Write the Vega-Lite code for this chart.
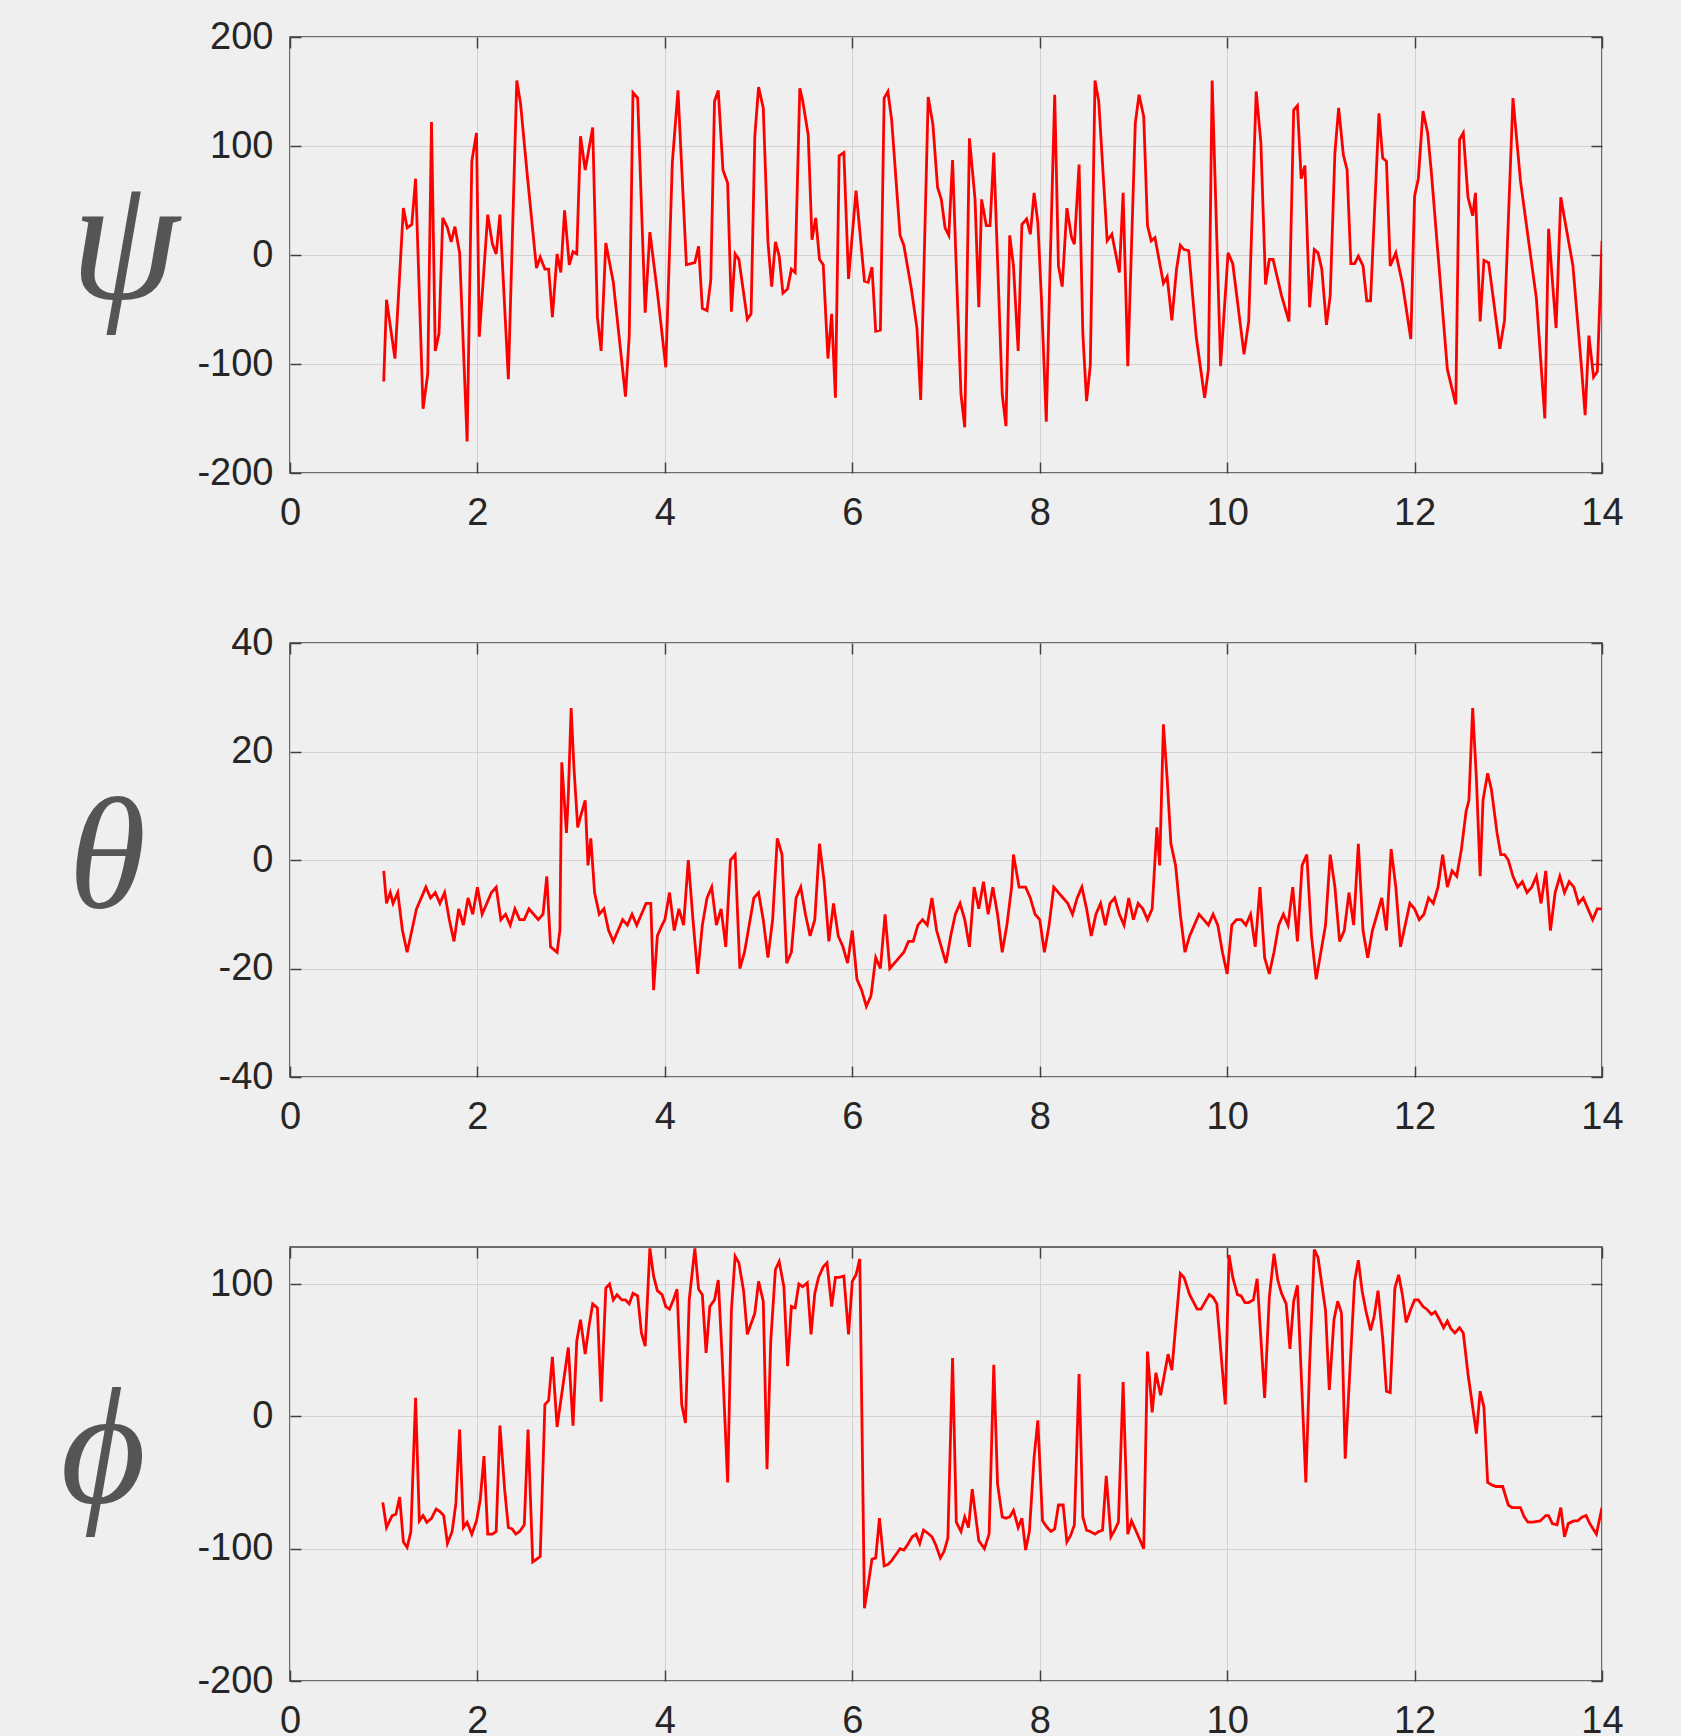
{
  "$schema": "https://vega.github.io/schema/vega-lite/v6.json",
  "autosize": {"type": "pad"},
  "padding": {"left": 59, "top": 17, "right": 59, "bottom": 0},
  "background": "#efefef",
  "bounds": "flush",
  "spacing": 170,
  "config": {
    "view": {"stroke": "#404040", "strokeWidth": 1.5},
    "axis": {
      "domain": false,
      "labelFont": "Liberation Sans",
      "labelFontSize": 38,
      "labelColor": "#262626",
      "labelFlush": false,
      "labelOverlap": false,
      "labelExpr": "datum.value + ''",
      "gridColor": "#d2d2d2",
      "gridWidth": 1,
      "tickColor": "#404040",
      "tickWidth": 1.5,
      "tickSize": -11,
      "titleAngle": 0,
      "titleFont": "Liberation Serif",
      "titleFontStyle": "italic",
      "titleFontWeight": "normal",
      "titleColor": "#555555",
      "titleAlign": "left",
      "titleBaseline": "alphabetic"
    },
    "axisX": {"labelPadding": 32},
    "axisY": {"labelPadding": 28}
  },
  "datasets": {
    "psi": [
      {"t":1.0,"v":-116},{"t":1.03,"v":-41},{"t":1.12,"v":-95},{"t":1.21,"v":43},{"t":1.25,"v":25},{"t":1.3,"v":28},{"t":1.34,"v":70},{"t":1.42,"v":-141},{"t":1.47,"v":-109},{"t":1.51,"v":122},{"t":1.55,"v":-88},{"t":1.59,"v":-72},{"t":1.63,"v":34},{"t":1.68,"v":25},{"t":1.72,"v":12},{"t":1.76,"v":26},{"t":1.81,"v":2},{"t":1.89,"v":-171},{"t":1.94,"v":86},{"t":1.99,"v":112},{"t":2.02,"v":-75},{"t":2.11,"v":37},{"t":2.16,"v":10},{"t":2.2,"v":1},{"t":2.24,"v":37},{"t":2.33,"v":-114},{"t":2.42,"v":160},{"t":2.46,"v":139},{"t":2.53,"v":75},{"t":2.63,"v":-12},{"t":2.67,"v":-2},{"t":2.72,"v":-13},{"t":2.76,"v":-13},{"t":2.8,"v":-57},{"t":2.85,"v":1},{"t":2.89,"v":-16},{"t":2.93,"v":41},{"t":2.98,"v":-9},{"t":3.02,"v":3},{"t":3.06,"v":1},{"t":3.1,"v":109},{"t":3.15,"v":78},{"t":3.23,"v":117},{"t":3.28,"v":-57},{"t":3.32,"v":-88},{"t":3.37,"v":11},{"t":3.45,"v":-25},{"t":3.58,"v":-130},{"t":3.62,"v":-74},{"t":3.66,"v":149},{"t":3.71,"v":144},{"t":3.79,"v":-53},{"t":3.84,"v":21},{"t":3.92,"v":-34},{"t":4.01,"v":-103},{"t":4.08,"v":85},{"t":4.14,"v":151},{"t":4.23,"v":-9},{"t":4.32,"v":-7},{"t":4.36,"v":8},{"t":4.4,"v":-49},{"t":4.45,"v":-51},{"t":4.49,"v":-23},{"t":4.53,"v":141},{"t":4.57,"v":151},{"t":4.62,"v":78},{"t":4.67,"v":66},{"t":4.71,"v":-52},{"t":4.75,"v":1},{"t":4.79,"v":-4},{"t":4.88,"v":-59},{"t":4.92,"v":-54},{"t":4.96,"v":109},{"t":5.0,"v":154},{"t":5.05,"v":135},{"t":5.1,"v":12},{"t":5.14,"v":-29},{"t":5.18,"v":12},{"t":5.22,"v":-1},{"t":5.26,"v":-35},{"t":5.31,"v":-31},{"t":5.35,"v":-13},{"t":5.39,"v":-16},{"t":5.44,"v":153},{"t":5.47,"v":142},{"t":5.53,"v":110},{"t":5.57,"v":14},{"t":5.61,"v":34},{"t":5.65,"v":-4},{"t":5.69,"v":-9},{"t":5.74,"v":-95},{"t":5.78,"v":-54},{"t":5.82,"v":-131},{"t":5.86,"v":91},{"t":5.91,"v":94},{"t":5.96,"v":-22},{"t":6.04,"v":59},{"t":6.13,"v":-24},{"t":6.17,"v":-25},{"t":6.21,"v":-11},{"t":6.25,"v":-70},{"t":6.3,"v":-69},{"t":6.34,"v":144},{"t":6.38,"v":150},{"t":6.42,"v":124},{"t":6.51,"v":18},{"t":6.55,"v":9},{"t":6.63,"v":-31},{"t":6.69,"v":-67},{"t":6.73,"v":-133},{"t":6.81,"v":145},{"t":6.86,"v":120},{"t":6.91,"v":62},{"t":6.95,"v":51},{"t":6.99,"v":25},{"t":7.03,"v":18},{"t":7.07,"v":87},{"t":7.12,"v":-37},{"t":7.16,"v":-128},{"t":7.2,"v":-158},{"t":7.25,"v":107},{"t":7.31,"v":51},{"t":7.35,"v":-48},{"t":7.38,"v":51},{"t":7.43,"v":27},{"t":7.47,"v":27},{"t":7.51,"v":94},{"t":7.6,"v":-128},{"t":7.64,"v":-157},{"t":7.68,"v":18},{"t":7.72,"v":-10},{"t":7.77,"v":-88},{"t":7.81,"v":28},{"t":7.86,"v":33},{"t":7.9,"v":19},{"t":7.94,"v":57},{"t":7.98,"v":30},{"t":8.02,"v":-43},{"t":8.07,"v":-153},{"t":8.11,"v":-13},{"t":8.16,"v":147},{"t":8.2,"v":-10},{"t":8.24,"v":-29},{"t":8.29,"v":43},{"t":8.34,"v":16},{"t":8.37,"v":10},{"t":8.42,"v":83},{"t":8.46,"v":-72},{"t":8.5,"v":-134},{"t":8.54,"v":-101},{"t":8.59,"v":160},{"t":8.63,"v":141},{"t":8.72,"v":13},{"t":8.77,"v":19},{"t":8.85,"v":-16},{"t":8.89,"v":57},{"t":8.94,"v":-102},{"t":9.02,"v":121},{"t":9.06,"v":147},{"t":9.11,"v":127},{"t":9.15,"v":27},{"t":9.19,"v":13},{"t":9.23,"v":16},{"t":9.32,"v":-26},{"t":9.36,"v":-20},{"t":9.41,"v":-60},{"t":9.46,"v":-13},{"t":9.5,"v":9},{"t":9.54,"v":5},{"t":9.59,"v":4},{"t":9.67,"v":-75},{"t":9.76,"v":-131},{"t":9.8,"v":-105},{"t":9.84,"v":160},{"t":9.93,"v":-102},{"t":10.01,"v":2},{"t":10.06,"v":-8},{"t":10.18,"v":-91},{"t":10.23,"v":-61},{"t":10.31,"v":150},{"t":10.36,"v":103},{"t":10.41,"v":-27},{"t":10.45,"v":-4},{"t":10.49,"v":-4},{"t":10.58,"v":-37},{"t":10.66,"v":-61},{"t":10.71,"v":133},{"t":10.75,"v":137},{"t":10.79,"v":70},{"t":10.83,"v":82},{"t":10.88,"v":-48},{"t":10.93,"v":5},{"t":10.97,"v":2},{"t":11.01,"v":-13},{"t":11.06,"v":-64},{"t":11.1,"v":-37},{"t":11.15,"v":94},{"t":11.19,"v":135},{"t":11.24,"v":92},{"t":11.28,"v":78},{"t":11.32,"v":-8},{"t":11.36,"v":-8},{"t":11.4,"v":-1},{"t":11.45,"v":-10},{"t":11.49,"v":-42},{"t":11.53,"v":-42},{"t":11.62,"v":130},{"t":11.66,"v":89},{"t":11.7,"v":86},{"t":11.74,"v":-10},{"t":11.8,"v":2},{"t":11.87,"v":-26},{"t":11.96,"v":-77},{"t":12.0,"v":54},{"t":12.04,"v":70},{"t":12.09,"v":132},{"t":12.14,"v":112},{"t":12.18,"v":75},{"t":12.35,"v":-105},{"t":12.44,"v":-137},{"t":12.48,"v":106},{"t":12.52,"v":112},{"t":12.57,"v":53},{"t":12.62,"v":36},{"t":12.65,"v":57},{"t":12.7,"v":-61},{"t":12.74,"v":-5},{"t":12.79,"v":-7},{"t":12.91,"v":-86},{"t":12.96,"v":-60},{"t":13.05,"v":144},{"t":13.13,"v":68},{"t":13.3,"v":-40},{"t":13.39,"v":-150},{"t":13.43,"v":24},{"t":13.47,"v":-23},{"t":13.51,"v":-67},{"t":13.56,"v":53},{"t":13.69,"v":-10},{"t":13.78,"v":-102},{"t":13.82,"v":-147},{"t":13.86,"v":-74},{"t":13.91,"v":-112},{"t":13.95,"v":-107},{"t":14.0,"v":13}
    ],
    "theta": [
      {"t":1.0,"v":-2},{"t":1.03,"v":-8},{"t":1.07,"v":-6},{"t":1.1,"v":-8},{"t":1.15,"v":-6},{"t":1.2,"v":-13},{"t":1.25,"v":-17},{"t":1.35,"v":-9},{"t":1.45,"v":-5},{"t":1.5,"v":-7},{"t":1.55,"v":-6},{"t":1.6,"v":-8},{"t":1.65,"v":-6},{"t":1.7,"v":-11},{"t":1.75,"v":-15},{"t":1.8,"v":-9},{"t":1.85,"v":-12},{"t":1.9,"v":-7},{"t":1.95,"v":-10},{"t":2.0,"v":-5},{"t":2.05,"v":-10},{"t":2.1,"v":-8},{"t":2.15,"v":-6},{"t":2.2,"v":-5},{"t":2.25,"v":-11},{"t":2.3,"v":-10},{"t":2.35,"v":-12},{"t":2.4,"v":-9},{"t":2.45,"v":-11},{"t":2.5,"v":-11},{"t":2.55,"v":-9},{"t":2.6,"v":-10},{"t":2.65,"v":-11},{"t":2.7,"v":-10},{"t":2.74,"v":-3},{"t":2.78,"v":-16},{"t":2.85,"v":-17},{"t":2.88,"v":-13},{"t":2.9,"v":18},{"t":2.95,"v":5},{"t":2.97,"v":12},{"t":3.0,"v":28},{"t":3.03,"v":17},{"t":3.07,"v":6},{"t":3.1,"v":8},{"t":3.15,"v":11},{"t":3.18,"v":-1},{"t":3.21,"v":4},{"t":3.25,"v":-6},{"t":3.3,"v":-10},{"t":3.35,"v":-9},{"t":3.4,"v":-13},{"t":3.45,"v":-15},{"t":3.5,"v":-13},{"t":3.55,"v":-11},{"t":3.6,"v":-12},{"t":3.65,"v":-10},{"t":3.7,"v":-12},{"t":3.75,"v":-10},{"t":3.8,"v":-8},{"t":3.85,"v":-8},{"t":3.88,"v":-24},{"t":3.92,"v":-14},{"t":3.97,"v":-12},{"t":4.0,"v":-11},{"t":4.05,"v":-6},{"t":4.1,"v":-13},{"t":4.15,"v":-9},{"t":4.2,"v":-12},{"t":4.25,"v":0},{"t":4.3,"v":-11},{"t":4.35,"v":-21},{"t":4.4,"v":-12},{"t":4.45,"v":-7},{"t":4.5,"v":-5},{"t":4.55,"v":-12},{"t":4.6,"v":-9},{"t":4.65,"v":-16},{"t":4.7,"v":0},{"t":4.75,"v":1},{"t":4.8,"v":-20},{"t":4.85,"v":-17},{"t":4.9,"v":-12},{"t":4.95,"v":-7},{"t":5.0,"v":-6},{"t":5.05,"v":-11},{"t":5.1,"v":-18},{"t":5.15,"v":-11},{"t":5.2,"v":4},{"t":5.25,"v":1},{"t":5.3,"v":-19},{"t":5.35,"v":-17},{"t":5.4,"v":-7},{"t":5.45,"v":-5},{"t":5.5,"v":-10},{"t":5.55,"v":-14},{"t":5.6,"v":-11},{"t":5.65,"v":3},{"t":5.7,"v":-4},{"t":5.75,"v":-15},{"t":5.8,"v":-8},{"t":5.85,"v":-14},{"t":5.9,"v":-16},{"t":5.95,"v":-19},{"t":6.0,"v":-13},{"t":6.05,"v":-22},{"t":6.1,"v":-24},{"t":6.15,"v":-27},{"t":6.2,"v":-25},{"t":6.25,"v":-18},{"t":6.3,"v":-20},{"t":6.35,"v":-10},{"t":6.4,"v":-20},{"t":6.45,"v":-19},{"t":6.5,"v":-18},{"t":6.55,"v":-17},{"t":6.6,"v":-15},{"t":6.65,"v":-15},{"t":6.7,"v":-12},{"t":6.75,"v":-11},{"t":6.8,"v":-12},{"t":6.85,"v":-7},{"t":6.9,"v":-13},{"t":6.95,"v":-16},{"t":7.0,"v":-19},{"t":7.05,"v":-14},{"t":7.1,"v":-10},{"t":7.15,"v":-8},{"t":7.2,"v":-11},{"t":7.25,"v":-16},{"t":7.3,"v":-5},{"t":7.35,"v":-9},{"t":7.4,"v":-4},{"t":7.45,"v":-10},{"t":7.5,"v":-5},{"t":7.55,"v":-10},{"t":7.6,"v":-17},{"t":7.65,"v":-12},{"t":7.7,"v":-5},{"t":7.72,"v":1},{"t":7.78,"v":-5},{"t":7.85,"v":-5},{"t":7.9,"v":-7},{"t":7.95,"v":-10},{"t":8.0,"v":-11},{"t":8.05,"v":-17},{"t":8.1,"v":-12},{"t":8.15,"v":-5},{"t":8.2,"v":-6},{"t":8.25,"v":-7},{"t":8.3,"v":-8},{"t":8.35,"v":-10},{"t":8.4,"v":-7},{"t":8.45,"v":-5},{"t":8.5,"v":-9},{"t":8.55,"v":-14},{"t":8.6,"v":-10},{"t":8.65,"v":-8},{"t":8.7,"v":-12},{"t":8.75,"v":-8},{"t":8.8,"v":-7},{"t":8.85,"v":-10},{"t":8.9,"v":-12},{"t":8.95,"v":-7},{"t":9.0,"v":-11},{"t":9.05,"v":-8},{"t":9.1,"v":-9},{"t":9.15,"v":-11},{"t":9.2,"v":-9},{"t":9.25,"v":6},{"t":9.28,"v":-1},{"t":9.32,"v":25},{"t":9.36,"v":15},{"t":9.4,"v":3},{"t":9.45,"v":-1},{"t":9.5,"v":-10},{"t":9.55,"v":-17},{"t":9.6,"v":-14},{"t":9.65,"v":-12},{"t":9.7,"v":-10},{"t":9.75,"v":-11},{"t":9.8,"v":-12},{"t":9.85,"v":-10},{"t":9.9,"v":-12},{"t":9.95,"v":-17},{"t":10.0,"v":-21},{"t":10.05,"v":-12},{"t":10.1,"v":-11},{"t":10.15,"v":-11},{"t":10.2,"v":-12},{"t":10.25,"v":-10},{"t":10.3,"v":-16},{"t":10.35,"v":-5},{"t":10.4,"v":-18},{"t":10.45,"v":-21},{"t":10.5,"v":-17},{"t":10.55,"v":-12},{"t":10.6,"v":-10},{"t":10.65,"v":-12},{"t":10.7,"v":-5},{"t":10.75,"v":-15},{"t":10.8,"v":-1},{"t":10.85,"v":1},{"t":10.9,"v":-14},{"t":10.95,"v":-22},{"t":11.0,"v":-17},{"t":11.05,"v":-12},{"t":11.1,"v":1},{"t":11.15,"v":-5},{"t":11.2,"v":-15},{"t":11.25,"v":-13},{"t":11.3,"v":-6},{"t":11.35,"v":-12},{"t":11.4,"v":3},{"t":11.45,"v":-13},{"t":11.5,"v":-18},{"t":11.55,"v":-13},{"t":11.6,"v":-10},{"t":11.65,"v":-7},{"t":11.7,"v":-13},{"t":11.75,"v":2},{"t":11.8,"v":-5},{"t":11.85,"v":-16},{"t":11.9,"v":-12},{"t":11.95,"v":-8},{"t":12.0,"v":-9},{"t":12.05,"v":-11},{"t":12.1,"v":-10},{"t":12.15,"v":-7},{"t":12.2,"v":-8},{"t":12.25,"v":-5},{"t":12.3,"v":1},{"t":12.35,"v":-5},{"t":12.4,"v":-2},{"t":12.45,"v":-3},{"t":12.5,"v":2},{"t":12.55,"v":9},{"t":12.58,"v":11},{"t":12.62,"v":28},{"t":12.66,"v":15},{"t":12.7,"v":-3},{"t":12.73,"v":11},{"t":12.78,"v":16},{"t":12.82,"v":13},{"t":12.88,"v":5},{"t":12.92,"v":1},{"t":12.96,"v":1},{"t":13.0,"v":0},{"t":13.05,"v":-3},{"t":13.1,"v":-5},{"t":13.15,"v":-4},{"t":13.2,"v":-6},{"t":13.25,"v":-5},{"t":13.3,"v":-3},{"t":13.35,"v":-8},{"t":13.4,"v":-2},{"t":13.45,"v":-13},{"t":13.5,"v":-6},{"t":13.55,"v":-3},{"t":13.6,"v":-6},{"t":13.65,"v":-4},{"t":13.7,"v":-5},{"t":13.75,"v":-8},{"t":13.8,"v":-7},{"t":13.85,"v":-9},{"t":13.9,"v":-11},{"t":13.95,"v":-9},{"t":14.0,"v":-9}
    ],
    "phi": [
      {"t":0.99,"v":-65},{"t":1.03,"v":-84},{"t":1.09,"v":-75},{"t":1.13,"v":-74},{"t":1.17,"v":-61},{"t":1.21,"v":-95},{"t":1.25,"v":-99},{"t":1.29,"v":-87},{"t":1.34,"v":14},{"t":1.38,"v":-79},{"t":1.42,"v":-75},{"t":1.46,"v":-80},{"t":1.51,"v":-77},{"t":1.56,"v":-70},{"t":1.6,"v":-72},{"t":1.64,"v":-75},{"t":1.68,"v":-96},{"t":1.73,"v":-87},{"t":1.77,"v":-66},{"t":1.81,"v":-10},{"t":1.85,"v":-84},{"t":1.89,"v":-80},{"t":1.94,"v":-89},{"t":1.99,"v":-79},{"t":2.03,"v":-63},{"t":2.07,"v":-30},{"t":2.11,"v":-89},{"t":2.16,"v":-89},{"t":2.2,"v":-87},{"t":2.24,"v":-7},{"t":2.29,"v":-55},{"t":2.33,"v":-84},{"t":2.37,"v":-85},{"t":2.41,"v":-89},{"t":2.45,"v":-87},{"t":2.5,"v":-82},{"t":2.54,"v":-10},{"t":2.59,"v":-110},{"t":2.63,"v":-108},{"t":2.67,"v":-106},{"t":2.72,"v":9},{"t":2.76,"v":12},{"t":2.8,"v":45},{"t":2.85,"v":-8},{"t":2.89,"v":12},{"t":2.97,"v":52},{"t":3.02,"v":-7},{"t":3.06,"v":57},{"t":3.1,"v":73},{"t":3.15,"v":47},{"t":3.19,"v":68},{"t":3.23,"v":85},{"t":3.28,"v":82},{"t":3.32,"v":11},{"t":3.37,"v":97},{"t":3.41,"v":100},{"t":3.45,"v":88},{"t":3.49,"v":92},{"t":3.54,"v":88},{"t":3.58,"v":88},{"t":3.62,"v":85},{"t":3.66,"v":93},{"t":3.71,"v":91},{"t":3.75,"v":63},{"t":3.79,"v":53},{"t":3.84,"v":127},{"t":3.88,"v":106},{"t":3.92,"v":95},{"t":3.97,"v":92},{"t":4.01,"v":83},{"t":4.05,"v":81},{"t":4.09,"v":88},{"t":4.13,"v":96},{"t":4.18,"v":9},{"t":4.22,"v":-5},{"t":4.26,"v":88},{"t":4.32,"v":127},{"t":4.36,"v":96},{"t":4.4,"v":92},{"t":4.44,"v":48},{"t":4.48,"v":83},{"t":4.53,"v":88},{"t":4.57,"v":103},{"t":4.61,"v":47},{"t":4.67,"v":-50},{"t":4.71,"v":80},{"t":4.75,"v":121},{"t":4.79,"v":116},{"t":4.84,"v":95},{"t":4.88,"v":62},{"t":4.92,"v":70},{"t":4.96,"v":78},{"t":5.0,"v":102},{"t":5.05,"v":87},{"t":5.09,"v":-40},{"t":5.13,"v":57},{"t":5.18,"v":111},{"t":5.22,"v":117},{"t":5.27,"v":98},{"t":5.31,"v":38},{"t":5.35,"v":83},{"t":5.39,"v":82},{"t":5.43,"v":100},{"t":5.47,"v":98},{"t":5.52,"v":101},{"t":5.56,"v":62},{"t":5.6,"v":93},{"t":5.64,"v":105},{"t":5.69,"v":113},{"t":5.73,"v":116},{"t":5.78,"v":83},{"t":5.82,"v":105},{"t":5.86,"v":105},{"t":5.91,"v":106},{"t":5.96,"v":62},{"t":6.0,"v":102},{"t":6.04,"v":107},{"t":6.08,"v":119},{"t":6.13,"v":-145},{"t":6.17,"v":-127},{"t":6.21,"v":-108},{"t":6.25,"v":-107},{"t":6.29,"v":-77},{"t":6.34,"v":-113},{"t":6.38,"v":-112},{"t":6.42,"v":-109},{"t":6.47,"v":-104},{"t":6.51,"v":-100},{"t":6.55,"v":-101},{"t":6.59,"v":-97},{"t":6.64,"v":-91},{"t":6.68,"v":-89},{"t":6.72,"v":-96},{"t":6.76,"v":-86},{"t":6.8,"v":-88},{"t":6.85,"v":-91},{"t":6.89,"v":-97},{"t":6.94,"v":-107},{"t":6.98,"v":-102},{"t":7.02,"v":-92},{"t":7.07,"v":44},{"t":7.11,"v":-80},{"t":7.16,"v":-87},{"t":7.2,"v":-76},{"t":7.24,"v":-84},{"t":7.28,"v":-55},{"t":7.35,"v":-94},{"t":7.41,"v":-100},{"t":7.46,"v":-89},{"t":7.51,"v":39},{"t":7.55,"v":-51},{"t":7.6,"v":-76},{"t":7.64,"v":-77},{"t":7.68,"v":-76},{"t":7.72,"v":-71},{"t":7.77,"v":-84},{"t":7.81,"v":-77},{"t":7.85,"v":-101},{"t":7.89,"v":-87},{"t":7.94,"v":-31},{"t":7.98,"v":-3},{"t":8.03,"v":-79},{"t":8.08,"v":-84},{"t":8.12,"v":-87},{"t":8.16,"v":-85},{"t":8.2,"v":-67},{"t":8.25,"v":-67},{"t":8.29,"v":-95},{"t":8.33,"v":-90},{"t":8.37,"v":-82},{"t":8.42,"v":32},{"t":8.46,"v":-76},{"t":8.5,"v":-86},{"t":8.54,"v":-87},{"t":8.59,"v":-89},{"t":8.63,"v":-87},{"t":8.67,"v":-86},{"t":8.71,"v":-45},{"t":8.76,"v":-91},{"t":8.8,"v":-86},{"t":8.84,"v":-80},{"t":8.89,"v":26},{"t":8.94,"v":-89},{"t":8.98,"v":-79},{"t":9.03,"v":-87},{"t":9.11,"v":-100},{"t":9.15,"v":49},{"t":9.2,"v":3},{"t":9.24,"v":33},{"t":9.29,"v":16},{"t":9.37,"v":47},{"t":9.41,"v":35},{"t":9.5,"v":108},{"t":9.54,"v":105},{"t":9.6,"v":92},{"t":9.68,"v":81},{"t":9.72,"v":81},{"t":9.81,"v":92},{"t":9.85,"v":90},{"t":9.89,"v":85},{"t":9.98,"v":9},{"t":10.02,"v":122},{"t":10.06,"v":105},{"t":10.11,"v":92},{"t":10.15,"v":91},{"t":10.19,"v":86},{"t":10.23,"v":86},{"t":10.28,"v":88},{"t":10.32,"v":104},{"t":10.4,"v":14},{"t":10.45,"v":90},{"t":10.5,"v":123},{"t":10.54,"v":103},{"t":10.58,"v":93},{"t":10.63,"v":85},{"t":10.67,"v":51},{"t":10.71,"v":87},{"t":10.75,"v":99},{"t":10.84,"v":-50},{"t":10.88,"v":39},{"t":10.93,"v":126},{"t":10.97,"v":120},{"t":11.01,"v":100},{"t":11.05,"v":80},{"t":11.09,"v":20},{"t":11.14,"v":73},{"t":11.18,"v":87},{"t":11.22,"v":78},{"t":11.26,"v":-32},{"t":11.36,"v":102},{"t":11.4,"v":118},{"t":11.44,"v":95},{"t":11.48,"v":80},{"t":11.53,"v":65},{"t":11.57,"v":76},{"t":11.61,"v":95},{"t":11.66,"v":59},{"t":11.7,"v":19},{"t":11.74,"v":18},{"t":11.79,"v":97},{"t":11.83,"v":107},{"t":11.87,"v":92},{"t":11.91,"v":71},{"t":11.96,"v":81},{"t":12.0,"v":88},{"t":12.04,"v":88},{"t":12.09,"v":83},{"t":12.13,"v":81},{"t":12.18,"v":77},{"t":12.22,"v":79},{"t":12.26,"v":74},{"t":12.31,"v":67},{"t":12.35,"v":72},{"t":12.39,"v":66},{"t":12.43,"v":63},{"t":12.48,"v":67},{"t":12.52,"v":63},{"t":12.57,"v":32},{"t":12.66,"v":-13},{"t":12.7,"v":19},{"t":12.74,"v":7},{"t":12.78,"v":-50},{"t":12.83,"v":-52},{"t":12.87,"v":-53},{"t":12.94,"v":-53},{"t":13.0,"v":-67},{"t":13.04,"v":-69},{"t":13.13,"v":-69},{"t":13.17,"v":-76},{"t":13.21,"v":-80},{"t":13.26,"v":-80},{"t":13.34,"v":-79},{"t":13.4,"v":-75},{"t":13.43,"v":-75},{"t":13.47,"v":-81},{"t":13.52,"v":-82},{"t":13.56,"v":-69},{"t":13.6,"v":-91},{"t":13.64,"v":-81},{"t":13.7,"v":-79},{"t":13.74,"v":-79},{"t":13.79,"v":-76},{"t":13.83,"v":-75},{"t":13.87,"v":-81},{"t":13.94,"v":-89},{"t":14.0,"v":-69}
    ]
  },
  "vconcat": [
    {
      "width": 1312, "height": 436,
      "data": {"name": "psi"},
      "layer": [
        {
          "mark": {"type": "line", "color": "#ff0000", "strokeWidth": 2.8, "clip": true},
          "encoding": {
            "x": {"field": "t", "type": "quantitative", "scale": {"domain": [0, 14], "nice": false},
                  "axis": {"values": [0,2,4,6,8,10,12,14], "title": null}},
            "y": {"field": "v", "type": "quantitative", "scale": {"domain": [-200, 200], "nice": false},
                  "axis": {"values": [-200,-100,0,100,200], "title": "ψ", "titleFontSize": 175, "titleX": -220, "titleY": 260}}
          }
        },
        {
          "mark": {"type": "line", "opacity": 0},
          "encoding": {
            "x": {"field": "t", "type": "quantitative", "scale": {"domain": [0, 14], "nice": false},
                  "axis": {"orient": "top", "values": [0,2,4,6,8,10,12,14], "labels": false, "grid": false, "title": null}},
            "y": {"field": "v", "type": "quantitative", "scale": {"domain": [-200, 200], "nice": false},
                  "axis": {"orient": "right", "values": [-200,-100,0,100,200], "labels": false, "grid": false, "title": null}}
          }
        }
      ],
      "resolve": {"axis": {"x": "independent", "y": "independent"}}
    },
    {
      "width": 1312, "height": 434,
      "data": {"name": "theta"},
      "layer": [
        {
          "mark": {"type": "line", "color": "#ff0000", "strokeWidth": 2.8, "clip": true},
          "encoding": {
            "x": {"field": "t", "type": "quantitative", "scale": {"domain": [0, 14], "nice": false},
                  "axis": {"values": [0,2,4,6,8,10,12,14], "title": null}},
            "y": {"field": "v", "type": "quantitative", "scale": {"domain": [-40, 40], "nice": false},
                  "axis": {"values": [-40,-20,0,20,40], "title": "θ", "titleFontSize": 158, "titleX": -222, "titleY": 263}}
          }
        },
        {
          "mark": {"type": "line", "opacity": 0},
          "encoding": {
            "x": {"field": "t", "type": "quantitative", "scale": {"domain": [0, 14], "nice": false},
                  "axis": {"orient": "top", "values": [0,2,4,6,8,10,12,14], "labels": false, "grid": false, "title": null}},
            "y": {"field": "v", "type": "quantitative", "scale": {"domain": [-40, 40], "nice": false},
                  "axis": {"orient": "right", "values": [-40,-20,0,20,40], "labels": false, "grid": false, "title": null}}
          }
        }
      ],
      "resolve": {"axis": {"x": "independent", "y": "independent"}}
    },
    {
      "width": 1312, "height": 434,
      "data": {"name": "phi"},
      "layer": [
        {
          "mark": {"type": "line", "color": "#ff0000", "strokeWidth": 2.8, "clip": true},
          "encoding": {
            "x": {"field": "t", "type": "quantitative", "scale": {"domain": [0, 14], "nice": false},
                  "axis": {"values": [0,2,4,6,8,10,12,14], "title": null}},
            "y": {"field": "v", "type": "quantitative", "scale": {"domain": [-200, 128], "nice": false},
                  "axis": {"values": [-200,-100,0,100], "title": "ϕ", "titleFontSize": 165, "titleX": -230, "titleY": 254}}
          }
        },
        {
          "mark": {"type": "line", "opacity": 0},
          "encoding": {
            "x": {"field": "t", "type": "quantitative", "scale": {"domain": [0, 14], "nice": false},
                  "axis": {"orient": "top", "values": [0,2,4,6,8,10,12,14], "labels": false, "grid": false, "title": null}},
            "y": {"field": "v", "type": "quantitative", "scale": {"domain": [-200, 128], "nice": false},
                  "axis": {"orient": "right", "values": [-200,-100,0,100], "labels": false, "grid": false, "title": null}}
          }
        }
      ],
      "resolve": {"axis": {"x": "independent", "y": "independent"}}
    }
  ]
}
